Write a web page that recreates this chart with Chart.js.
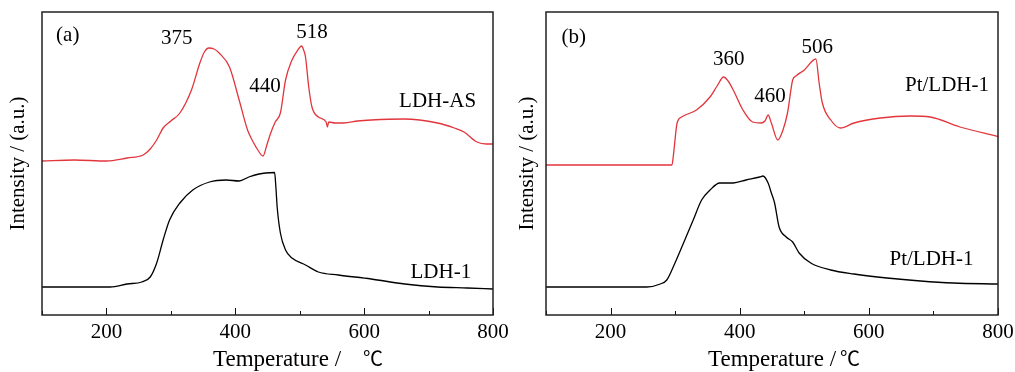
<!DOCTYPE html>
<html>
<head>
<meta charset="utf-8">
<script src="https://cdn.jsdelivr.net/npm/chart.js@4.4.0/dist/chart.umd.min.js"></script>
<style>
  html, body { margin: 0; padding: 0; background: #fff; }
  #wrap { position: relative; width: 1015px; height: 372px; }
  .panel { position: absolute; top: 0; height: 372px; }
  #panelA { left: 0; width: 520px; }
  #panelB { left: 505px; width: 510px; }
</style>
</head>
<body>
<div id="wrap">
  <div class="panel" id="panelA"><canvas id="chartA"></canvas></div>
  <div class="panel" id="panelB"><canvas id="chartB"></canvas></div>
</div>
<script>
// temperatures (°C) and intensities (a.u.)
const ldhAsT = [100,150,200,232,257,268,278,288,300,314,332,345,352,359,367,375,391,406,419,427,435,443,449,455,462,470,478,488,496,503,506,509,514,519,529,541,543,545,555,568,590,611,662,714,740,755,775,790,800];
const ldhAsI = [154,155,154,157,160,166,175,187,194,202,225,252,263,267,266,262,248,215,185,174,165,159,170,182,193,202,235,255,264,269,265,258,228,208,198,193,188,193,192,192,194,195,196,192,187,183,173,171,171];

const ldh1T = [100,206,232,255,268,278,288,298,314,334,360,386,406,421,437,447,461,463,465,470,478,488,509,529,560,611,663,714,760,800];
const ldh1I = [28,28,31,33,38,52,75,95,112,125,133,135,134,138,141,142,142.5,128,108,82,65,57,50,43,40,36,31,28,27,26];

const ptTopT = [100,295,297,299,303,310,333,354,365,375,382,390,405,420,433,439,444,449,459,467,474,482,487,500,518,523,528,541,556,577,618,664,695,741,800];
const ptTopI = [150,150,158,170,192,198,205,218,229,238,234,225,205,193,192,194,200,192,175,185,202,235,239,245,256,232,212,195,187,192,197,199,198,188,178.5];

const ptBotT = [100,256,277,287,297,313,328,341,354,369,390,410,431,436,444,449,454,461,472,482,492,510,541,577,628,680,731,800];
const ptBotI = [28,28,31,35,48,72,95,115,125,132,132,135,138,139,132,122,112,88,78,73,62,52,45,41,37,34,32,31];

const xLabels = [200, 400, 600, 800];

const RED = '#e2363d';
const FONT = '"Liberation Serif", "Noto Sans CJK SC", serif';

const toPoints = (ts, vs) => ts.map((t, i) => ({ x: t, y: vs[i] }));

// box, inward ticks, peak labels and x title
const framePlugin = {
    id: 'frame',
    afterDatasetsDraw(chart, args, opts) {
        const { ctx, chartArea: a, scales: { x, y } } = chart;
        ctx.save();
        ctx.strokeStyle = '#111';
        ctx.lineWidth = 1;
        x.ticks.forEach(t => {
            const px = Math.round(x.getPixelForValue(t.value)) + 0.5;
            const len = t.value % 200 === 0 ? 7 : 4;
            ctx.beginPath();
            ctx.moveTo(px, a.bottom);
            ctx.lineTo(px, a.bottom - len);
            ctx.stroke();
        });
        ctx.lineWidth = 1.5;
        ctx.strokeStyle = '#222';
        ctx.strokeRect(a.left, a.top, a.right - a.left, a.bottom - a.top);

        ctx.fillStyle = '#000';
        ctx.font = '21px ' + FONT;
        ctx.textAlign = 'center';
        ctx.textBaseline = 'alphabetic';
        opts.notes.forEach(n => {
            ctx.fillText(n.text, x.getPixelForValue(n.t), y.getPixelForValue(n.v));
        });
        // axis title: text part and unit placed separately, like the original
        ctx.textAlign = 'left';
        ctx.font = '23px ' + FONT;
        ctx.fillText(opts.xTitle, a.left + opts.xTitleShift, a.bottom + 51);
        ctx.font = '20px ' + FONT;
        ctx.fillText('\u2103', a.left + opts.unitShift, a.bottom + 51);
        ctx.restore();
    }
};

function makePanel(canvasId, upper, lower, notes, titleShifts, yAxisWidth, padRight, yTitlePad) {
    const ctx = document.getElementById(canvasId).getContext('2d');
    return new Chart(ctx, {
        type: 'line',
        data: {
            datasets: [
                { data: upper, borderColor: RED, borderWidth: 1.3, pointRadius: 0, cubicInterpolationMode: 'monotone' },
                { data: lower, borderColor: '#000', borderWidth: 1.3, pointRadius: 0, cubicInterpolationMode: 'monotone' },
            ],
        },
        options: {
            responsive: true,
            maintainAspectRatio: false,
            animation: false,
            devicePixelRatio: 1,
            layout: { padding: { top: 12, right: padRight, left: 0, bottom: 0 } },
            plugins: {
                legend: { display: false },
                tooltip: { enabled: false },
                frame: { notes, xTitle: 'Temperature /', xTitleShift: titleShifts[0], unitShift: titleShifts[1] },
            },
            scales: {
                x: {
                    type: 'linear',
                    min: 100,
                    max: 800,
                    grid: { display: false, drawTicks: false },
                    border: { display: false },
                    ticks: {
                        stepSize: 100,
                        autoSkip: false,
                        maxRotation: 0,
                        padding: 5,
                        color: '#000',
                        font: { family: FONT, size: 21 },
                        callback: v => xLabels.includes(v) ? String(v) : '',
                    },
                    afterFit: s => { s.height = 57; s.paddingLeft = 0; s.paddingRight = 0; },
                },
                y: {
                    min: 0,
                    max: 303,
                    grid: { display: false, drawTicks: false },
                    border: { display: false },
                    ticks: { display: false },
                    title: {
                        display: true,
                        text: 'Intensity / (a.u.)',
                        color: '#000',
                        font: { family: FONT, size: 21 },
                        padding: { top: yTitlePad, bottom: 0 },
                    },
                    afterFit: s => { s.width = yAxisWidth; },
                },
            },
        },
        plugins: [framePlugin],
    });
}

const notesA = [
    { text: '(a)', t: 140, v: 274 },
    { text: '375', t: 309, v: 271 },
    { text: '440', t: 446, v: 223 },
    { text: '518', t: 519, v: 277 },
    { text: 'LDH-AS', t: 714, v: 208 },
    { text: 'LDH-1', t: 719, v: 37 },
];
const notesB = [
    { text: '(b)', t: 143, v: 272 },
    { text: '360', t: 383, v: 250 },
    { text: '460', t: 447, v: 213 },
    { text: '506', t: 520, v: 262 },
    { text: 'Pt/LDH-1', t: 721, v: 224 },
    { text: 'Pt/LDH-1', t: 697, v: 50 },
];

makePanel('chartA', toPoints(ldhAsT, ldhAsI), toPoints(ldh1T, ldh1I), notesA, [171, 321], 42, 27, 6);
makePanel('chartB', toPoints(ptTopT, ptTopI), toPoints(ptBotT, ptBotI), notesB, [162, 294], 41, 17, 10);
</script>
</body>
</html>
